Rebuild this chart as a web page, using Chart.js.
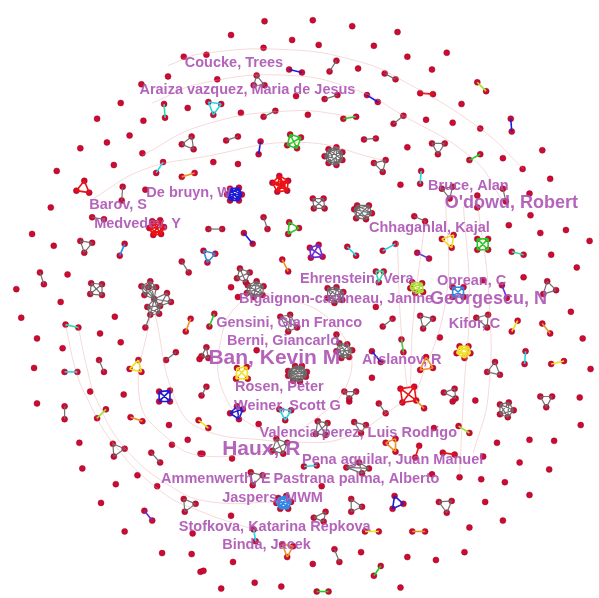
<!DOCTYPE html>
<html>
<head>
<meta charset="utf-8">
<script src="https://cdn.jsdelivr.net/npm/chart.js@4/dist/chart.umd.min.js"></script>
<style>
  html, body { margin: 0; padding: 0; background: #ffffff; }
  #wrap { width: 599px; height: 598px; }
</style>
</head>
<body>
<div id="wrap"><canvas id="net" width="599" height="598"></canvas></div>
<script>
// Co-authorship network: layout coordinates of every author node.

// Authors without co-authors in this set
const isolates = [
  [182,53],[166,73],[139,81],[118,100],[186,105],[94,116],[141,118],[127,133],[104,140],[77,146],
  [140,151],[111,163],[53,169],[143,188],
  [264,17],[313,16],[353,22],[230,31],[292,36],[319,41],[375,42],[263,44],[205,51],[359,65],
  [216,76],[296,93],[240,110],[308,112],[212,160],[237,162],
  [399,28],[409,53],[449,49],[434,66],[464,101],[428,117],[455,120],[483,126],[409,145],[546,148],
  [506,156],[526,167],[554,177],[402,183],[533,192],[480,194],
  [47,206],[28,233],[50,245],[64,274],[12,289],[57,302],[17,318],[112,317],[33,339],[97,334],
  [118,343],[59,349],[30,369],[198,360],[87,393],[121,396],
  [237,297],[230,287],[377,307],[373,379],[256,351],
  [480,206],[534,214],[512,224],[544,232],[570,229],[594,240],[555,254],[581,267],[527,277],[486,280],
  [575,312],[442,338],[587,339],[595,370],
  [33,405],[167,427],[76,445],[170,447],[186,442],[199,456],[79,471],[135,478],[113,487],[155,489],
  [98,506],[122,535],[191,537],[160,557],[190,558],[199,576],
  [350,403],[258,426],[231,461],[201,456],[322,489],[230,519],[362,556],[232,566],[313,568],[202,575],
  [254,587],[281,591],[220,593],
  [478,402],[455,403],[584,399],[585,427],[436,430],[500,445],[533,442],[558,443],[486,459],[523,465],
  [553,472],[462,480],[484,482],[508,485],[434,477],[533,498],[488,505],[506,524],[472,531],[467,556],
  [409,561],[438,564],[402,592]
];

// Collaboration groups: community colour key and member coordinates.
// Every pair of members inside a group is joined by an edge.
const pairGroups = [
  ['gray',[[120,185],[119,199]]],['gray',[[337,57],[330,68]]],['gray',[[386,70],[397,76]]],
  ['gray',[[325,96],[338,92]]],['gray',[[263,114],[275,108]]],['gray',[[395,121],[405,113]]],
  ['gray',[[225,138],[237,134]]],['gray',[[365,137],[377,136]]],['gray',[[89,216],[101,218]]],
  ['gray',[[180,261],[187,272]]],['gray',[[36,272],[40,284]]],['gray',[[174,353],[164,361]]],
  ['gray',[[96,361],[101,373]]],['gray',[[207,228],[221,228]]],['gray',[[263,216],[267,228]]],
  ['gray',[[384,327],[394,319]]],['gray',[[200,397],[205,388]]],['gray',[[416,215],[427,220]]],
  ['gray',[[61,408],[61,421]]],['gray',[[149,455],[158,465]]],['gray',[[380,405],[387,415]]],
  ['gray',[[335,553],[340,566]]],['gray',[[506,187],[509,200]]],['gray',[[337,335],[340,344]]],
  ['teal',[[162,101],[163,115]]],['cyan',[[161,160],[154,171]]],['cyan',[[61,373],[74,373]]],
  ['cyan',[[348,246],[357,255]]],['cyan',[[384,250],[397,243]]],['teal',[[515,251],[527,254]]],
  ['cyan',[[529,352],[528,365]]],['cyan',[[423,169],[422,182]]],['cyan',[[304,469],[317,468]]],
  ['cyan',[[253,533],[255,545]]],['teal',[[62,325],[75,328]]],
  ['orange',[[180,175],[193,171]]],['orange',[[189,319],[184,332]]],['orange',[[282,259],[288,271]]],
  ['orange',[[546,324],[554,334]]],['orange',[[128,419],[140,423]]],['orange',[[414,535],[427,535]]],
  ['orange',[[418,402],[426,410]]],
  ['blue',[[289,66],[302,69]]],['blue',[[368,92],[379,99]]],['blue',[[260,139],[258,152]]],
  ['blue',[[514,116],[515,129]]],['blue',[[243,232],[252,243]]],['blue',[[373,352],[382,363]]],
  ['skyblue',[[122,243],[117,255]]],
  ['purple',[[419,252],[431,258]]],['purple',[[505,285],[510,298]]],['purple',[[142,514],[150,524]]],
  ['green',[[344,116],[357,114]]],['green',[[483,152],[472,158]]],['green',[[213,314],[208,327]]],
  ['green',[[403,340],[405,353]]],['green',[[382,570],[375,580]]],['green',[[317,596],[329,596]]],
  ['lime',[[480,79],[489,88]]],['lime',[[103,411],[94,420]]],['lime',[[461,428],[472,435]]],
  ['red',[[422,90],[435,91]]],['red',[[421,448],[417,460]]],['red',[[445,455],[457,457]]],
  ['yellow',[[521,321],[515,332]]],['yellow',[[555,365],[568,362]]],['yellow',[[197,422],[207,430]]],
  ['yellow',[[366,535],[380,535]]]
];

const triangleGroups = [
  ['gray',[[180,142],[190,134],[192,147]]],['gray',[[256,72],[253,82],[264,82]]],
  ['gray',[[387,158],[375,161],[384,170]]],['gray',[[434,141],[447,141],[440,152]]],
  ['gray',[[77,240],[89,242],[81,252]]],['gray',[[205,348],[200,357],[207,359]]],
  ['gray',[[345,393],[357,393],[350,400]]],['gray',[[551,281],[560,290],[547,294]]],
  ['gray',[[422,316],[435,319],[425,329]]],['gray',[[479,318],[491,315],[490,328]]],
  ['gray',[[498,363],[490,373],[503,376]]],['gray',[[446,394],[457,390],[458,400]]],
  ['gray',[[110,446],[122,451],[111,459]]],['gray',[[182,502],[194,507],[183,515]]],
  ['gray',[[355,424],[367,427],[362,435]]],['gray',[[250,475],[262,478],[252,488]]],
  ['gray',[[352,502],[363,510],[352,515]]],['gray',[[314,521],[326,515],[324,525]]],
  ['gray',[[544,398],[556,398],[550,409]]],['gray',[[441,505],[454,504],[449,516]]],
  ['gray',[[444,187],[455,185],[452,197]]],
  ['red',[[81,179],[73,189],[86,191]]],
  ['cyan',[[207,99],[220,101],[212,112]]],['cyan',[[279,411],[291,412],[285,422]]],
  ['green',[[289,221],[299,227],[288,233]]],['teal',[[377,271],[385,271],[380,282]]],
  ['skyblue',[[202,250],[214,253],[206,262]]],['blue',[[396,499],[405,507],[394,512]]],
  ['yellow',[[136,361],[127,370],[139,373]]],['yellow',[[444,238],[456,234],[454,247]]],
  ['orange',[[428,358],[422,371],[435,369]]],['orange',[[387,445],[397,441],[397,454]]],
  ['orange',[[282,548],[293,550],[287,561]]]
];

const quadGroups = [
  ['gray',[[88,283],[99,284],[99,295],[87,294]]],['gray',[[313,197],[324,197],[325,207],[314,207]]],
  ['gray',[[276,441],[287,445],[283,456],[272,453]]],['gray',[[347,470],[360,465],[370,471],[363,476]]],
  ['gray',[[318,423],[328,425],[326,437],[316,436]]],['gray',[[280,317],[290,315],[297,328],[288,332]]],
  ['gray',[[239,268],[249,272],[245,282],[236,278]]],
  ['green',[[290,132],[301,135],[297,146],[287,143]]],['green',[[480,238],[491,238],[491,249],[480,249]]],
  ['purple',[[310,247],[319,244],[323,256],[311,257]]],
  ['yellow',[[236,369],[246,368],[247,380],[235,380]]],
  ['blue',[[157,393],[168,392],[168,403],[157,403]]],['blue',[[229,415],[236,408],[242,411],[238,421]]],
  ['skyblue',[[455,287],[466,287],[466,297],[455,297]]],
  ['red',[[402,390],[416,388],[418,402],[404,404]]]
];

const clusterGroups = [
  ['gray',[[329,147],[337,145],[343,150],[343,158],[337,163],[329,161],[325,154]]],
  ['red',[[279,174],[288,179],[287,189],[277,190],[272,181],[282,183]]],
  ['blue',[[229,187],[238,186],[241,193],[238,199],[229,199],[226,193]]],
  ['red',[[150,220],[158,219],[162,226],[159,233],[151,234],[147,227]]],
  ['gray',[[247,285],[256,281],[263,286],[262,295],[253,297],[246,293]]],
  ['gray',[[358,204],[370,204],[373,212],[367,218],[357,217],[355,208]]],
  ['gray',[[328,288],[337,287],[344,292],[343,300],[335,303],[328,298]]],
  ['gray',[[340,344],[348,345],[353,351],[350,358],[342,359],[337,352]]],
  ['gray',[[288,372],[295,367],[302,367],[307,373],[306,378],[300,383],[293,382],[288,377]]],
  ['lime',[[414,282],[424,283],[425,292],[417,293],[412,288]]],
  ['yellow',[[462,347],[471,347],[473,354],[467,359],[459,354]]],
  ['gray',[[503,406],[512,404],[517,412],[511,419],[503,416]]],
  ['skyblue',[[278,501],[286,499],[291,505],[288,512],[280,512],[276,506]]],
  // joined cliques on the left
  ['gray',[[148,281],[139,286],[146,287],[154,287],[142,295],[152,299]]],
  ['gray',[[152,299],[165,293],[169,302],[158,306]]],
  ['gray',[[152,299],[158,306],[157,314],[148,315],[145,307]]],
  ['gray',[[148,315],[143,328]]]
];

// Long links between distant groups, as waypoints along each curve
const longLinks = [
  [[166,62],[200,50],[290,46],[360,58],[400,75],[483,126],[527,167]],
  [[150,100],[200,80],[290,72],[360,88],[400,110],[476,157],[506,200]],
  [[140,153],[200,123],[290,108],[357,114]],
  [[90,197],[140,168],[200,155],[300,140],[384,158]],
  [[448,196],[448,300],[418,395]],
  [[480,200],[492,300],[491,398],[476,455]],
  [[466,205],[472,300],[466,398],[462,478]],
  [[399,240],[402,320],[409,392]],
  [[427,220],[415,320],[412,390]],
  [[250,290],[222,330],[225,400],[276,444]],
  [[262,292],[330,320],[350,380],[287,445]],
  [[62,325],[72,370],[83,398],[110,445],[160,495],[200,515],[253,533]],
  [[75,328],[84,370],[93,400],[122,450],[170,490],[210,505],[278,505]],
  [[148,315],[137,400],[165,440],[200,458],[272,453]],
  [[153,315],[173,400],[200,431],[276,444]],
  [[287,445],[345,440],[404,404]]
];

// Author names with their anchor point and prominence (1 regular, 2 medium, 3 high)
const authorLabels = [
  ['Coucke, Trees',183,59,1],
  ['Araiza vazquez, Maria de Jesus',137,87,1],
  ['De bruyn, W',144,191,1],
  ['Barov, S',86,204,1],
  ['Medvedev, Y',91,223,1],
  ['Bruce, Alan',430,184,1],
  ["O'dowd, Robert",447,202,2],
  ['Chhaganlal, Kajal',370,227,1],
  ['Ehrenstein, Vera',300,279,1],
  ['Oprean, C',439,281,1],
  ['Bigaignon-cartineau, Janine',238,299,1],
  ['Georgescu, N',432,299,2],
  ['Gensini, Gian Franco',215,323,1],
  ['Kifor, C',451,324,1],
  ['Berni, Giancarlo',226,342,1],
  ['Ban, Kevin M',207,359,3],
  ['Arslanov, R',363,361,1],
  ['Rosen, Peter',234,388,1],
  ['Weiner, Scott G',233,408,1],
  ['Valencia perez, Luis Rodrigo',259,435,1],
  ['Haux, R',221,451,3],
  ['Pena aguilar, Juan Manuel',302,462,1],
  ['Ammenwerth, E',159,482,1],
  ['Pastrana palma, Alberto',273,482,1],
  ['Jaspers, MWM',221,501,1],
  ['Stofkova, Katarina Repkova',177,530,1],
  ['Binda, Jacek',221,549,1]
];

// ---- styling ----
const communityColors = {
  gray: 'rgba(105,105,105,0.95)',
  red: '#ee1111',
  blue: '#1c1cd8',
  skyblue: '#2f8ae6',
  cyan: '#22d6e6',
  teal: '#2ee0a8',
  green: '#22cc22',
  lime: '#a6e22a',
  yellow: '#f2e21c',
  orange: '#f29224',
  purple: '#6a2ed6'
};
const labelSizes = { 1: 14.5, 2: 18, 3: 21 };

const allGroups = [].concat(pairGroups, triangleGroups, quadGroups, clusterGroups);

const datasets = [];

// curved long links (drawn first, beneath everything)
longLinks.forEach(path => {
  datasets.push({
    type: 'line',
    data: path.map(p => ({ x: p[0], y: p[1] })),
    borderColor: 'rgba(232,160,160,0.5)',
    borderWidth: 0.8,
    pointRadius: 0,
    tension: 0.45,
    fill: false,
    clip: false
  });
});

// group edges, one dataset per group, segments separated by gaps
allGroups.forEach(([key, members]) => {
  const pts = [];
  for (let i = 0; i < members.length; i++) {
    for (let j = i + 1; j < members.length; j++) {
      pts.push({ x: members[i][0], y: members[i][1] });
      pts.push({ x: members[j][0], y: members[j][1] });
      pts.push({ x: members[j][0], y: null });
    }
  }
  datasets.push({
    type: 'line',
    data: pts,
    borderColor: communityColors[key],
    borderWidth: key === 'gray' ? 1.2 : 1.6,
    pointRadius: 0,
    tension: 0,
    spanGaps: false,
    fill: false,
    clip: false
  });
});

// author nodes
const seen = new Set();
const nodePts = [];
const addNode = p => {
  const k = p[0] + ',' + p[1];
  if (!seen.has(k)) { seen.add(k); nodePts.push({ x: p[0], y: p[1] }); }
};
isolates.forEach(addNode);
allGroups.forEach(([, members]) => members.forEach(addNode));

datasets.push({
  type: 'scatter',
  data: nodePts,
  pointRadius: 3,
  pointBackgroundColor: '#cc0a32',
  pointBorderColor: 'rgba(150,0,30,0.9)',
  pointBorderWidth: 0.5,
  showLine: false,
  clip: false
});

const labelPlugin = {
  id: 'authorLabels',
  afterDatasetsDraw(chart) {
    const { ctx, scales } = chart;
    ctx.save();
    ctx.textBaseline = 'middle';
    ctx.textAlign = 'left';
    ctx.fillStyle = 'rgba(172,84,180,0.9)';
    authorLabels.forEach(([text, x, y, lvl]) => {
      ctx.font = 'bold ' + labelSizes[lvl] + 'px "Liberation Sans", Arial, sans-serif';
      ctx.fillText(text, scales.x.getPixelForValue(x), scales.y.getPixelForValue(y));
    });
    ctx.restore();
  }
};

new Chart(document.getElementById('net'), {
  type: 'scatter',
  data: { datasets },
  options: {
    responsive: false,
    animation: false,
    devicePixelRatio: 1,
    layout: { padding: 0 },
    plugins: { legend: { display: false }, tooltip: { enabled: false } },
    events: [],
    scales: {
      x: { type: 'linear', min: 0, max: 599, display: false },
      y: { type: 'linear', min: 0, max: 598, reverse: true, display: false }
    }
  },
  plugins: [labelPlugin]
});
</script>
</body>
</html>
